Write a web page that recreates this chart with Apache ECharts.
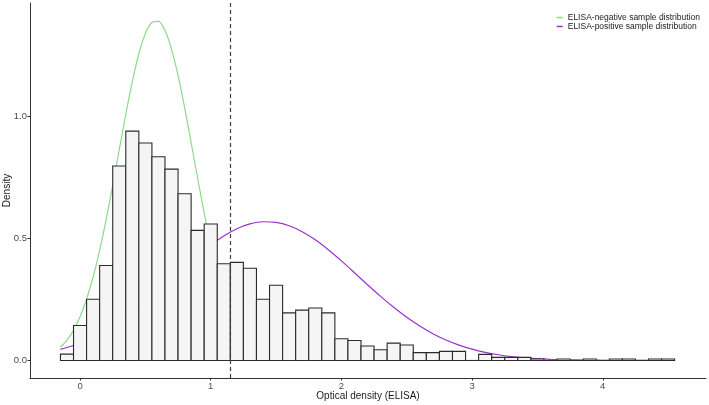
<!DOCTYPE html>
<html>
<head>
<meta charset="utf-8">
<script src="https://cdn.jsdelivr.net/npm/echarts@6/dist/echarts.min.js"></script>
<style>
html,body{margin:0;padding:0;background:#fff;}
#chart{width:709px;height:405px;}
</style>
</head>
<body>
<div id="chart"></div>
<script>
// Histogram bins (centers) and density heights
const binWidth = 0.1;
const binCenters = [-0.1,0.0,0.1,0.2,0.3,0.4,0.5,0.6,0.7,0.8,0.9,1.0,1.1,1.2,1.3,1.4,1.5,1.6,1.7,1.8,1.9,2.0,2.1,2.2,2.3,2.4,2.5,2.6,2.7,2.8,2.9,3.0,3.1,3.2,3.3,3.4,3.5,3.6,3.7,3.8,3.9,4.0,4.1,4.2,4.3,4.4,4.5];
const binDensity = [0.026,0.143,0.251,0.389,0.797,0.940,0.891,0.835,0.784,0.683,0.533,0.559,0.396,0.402,0.378,0.251,0.308,0.195,0.206,0.215,0.195,0.089,0.082,0.059,0.044,0.071,0.063,0.032,0.032,0.037,0.037,0,0.025,0.0125,0.0125,0.0125,0.006,0,0.006,0,0.006,0,0.006,0.006,0,0.006,0.006];

// ELISA-negative distribution curve
const negX = [-0.15,-0.10,-0.05,0.00,0.05,0.10,0.15,0.20,0.25,0.30,0.35,0.40,0.45,0.50,0.55,0.60,0.65,0.70,0.75,0.80,0.85,0.90,0.95,1.00,1.05,1.10,1.15,1.20,1.30,1.40,1.50,1.60,1.80,2.00,2.50,3.00,3.50,4.00,4.55];
const negY = [0.054,0.083,0.124,0.179,0.251,0.342,0.451,0.578,0.717,0.864,1.009,1.143,1.257,1.340,1.385,1.390,1.352,1.276,1.168,1.037,0.893,0.746,0.605,0.475,0.362,0.268,0.192,0.134,0.059,0.023,0.008,0.0025,0.0001,0,0,0,0,0,0];

// ELISA-positive distribution curve
const posX = [-0.15,-0.10,0.0,0.1,0.2,0.3,0.4,0.5,0.6,0.7,0.8,0.9,1.0,1.1,1.2,1.3,1.4,1.5,1.6,1.7,1.8,1.9,2.0,2.1,2.2,2.3,2.4,2.5,2.6,2.7,2.8,2.9,3.0,3.1,3.2,3.3,3.4,3.5,3.6,3.7,3.8,3.9,4.0,4.1,4.2,4.3,4.4,4.55];
const posY = [0.0452,0.0529,0.0715,0.0946,0.1227,0.1559,0.1942,0.2369,0.2832,0.3319,0.3809,0.4285,0.4722,0.5100,0.5397,0.5596,0.5685,0.5660,0.5521,0.5277,0.4943,0.4536,0.4079,0.3594,0.3103,0.2625,0.2176,0.1767,0.1407,0.1097,0.0838,0.0628,0.0461,0.0331,0.0233,0.0161,0.0109,0.0072,0.0047,0.0030,0.0019,0.0011,0.0007,0.0004,0.0002,0.0001,0.0001,0];

const cutoff = 1.15;
const xTicks = [0,1,2,3,4];
const yTicks = [0,0.5,1.0];

const zip = (a,b) => a.map((v,i)=>[v,b[i]]);
const FONT = 'Liberation Sans, Arial, sans-serif';

const chart = echarts.init(document.getElementById('chart'), null, {renderer:'canvas'});
chart.setOption({
  animation:false,
  backgroundColor:'#ffffff',
  grid:{left:30,right:3,top:3,bottom:27,containLabel:false,outerBoundsMode:'none'},
  legend:{
    orient:'vertical', right:4, top:8, align:'left',
    icon:'rect', itemWidth:6, itemHeight:1.5, itemGap:0,
    textStyle:{fontSize:8.5, color:'#1a1a1a', fontFamily:FONT, lineHeight:7.6, padding:0},
    data:['ELISA-negative sample distribution','ELISA-positive sample distribution']
  },
  xAxis:{
    type:'value', min:-0.383, max:4.79,
    name:'Optical density (ELISA)', nameLocation:'middle', nameGap:13, nameMoveOverlap:false,
    nameTextStyle:{fontSize:10, color:'#1a1a1a', fontFamily:FONT, verticalAlign:'top'},
    axisLine:{onZero:false, lineStyle:{color:'#333', width:1}},
    axisTick:{show:true, length:2.5, customValues:xTicks, lineStyle:{color:'#333'}},
    axisLabel:{customValues:xTicks, fontSize:9.5, color:'#4d4d4d', margin:3, fontFamily:FONT},
    splitLine:{show:false}
  },
  yAxis:{
    type:'value', min:-0.072, max:1.465,
    name:'Density', nameLocation:'middle', nameGap:18, nameRotate:90, nameMoveOverlap:false,
    nameTextStyle:{fontSize:10, color:'#1a1a1a', fontFamily:FONT},
    axisLine:{show:true, onZero:false, lineStyle:{color:'#333', width:1}},
    axisTick:{show:true, length:2.5, customValues:yTicks, lineStyle:{color:'#333'}},
    axisLabel:{customValues:yTicks, fontSize:9.5, color:'#4d4d4d', margin:3, fontFamily:FONT,
      formatter:v=>v.toFixed(1)},
    splitLine:{show:false}
  },
  series:[
    {
      name:'ELISA-negative sample distribution', type:'line', z:1,
      data:zip(negX,negY), smooth:0.3, symbol:'none',
      lineStyle:{color:'#8fd98b', width:1.2}, itemStyle:{color:'#8fd98b'}
    },
    {
      name:'ELISA-positive sample distribution', type:'line', z:1,
      data:zip(posX,posY), smooth:0.3, symbol:'none',
      lineStyle:{color:'#9932cc', width:1.2}, itemStyle:{color:'#9932cc'}
    },
    {
      name:'hist', type:'custom', z:3,
      data:zip(binCenters,binDensity),
      encode:{x:0,y:1},
      renderItem:function(params, api){
        const c = api.value(0), h = api.value(1);
        const p0 = api.coord([c - binWidth/2, h]);
        const p1 = api.coord([c + binWidth/2, 0]);
        return {type:'rect',
          shape:{x:p0[0], y:p0[1], width:p1[0]-p0[0], height:p1[1]-p0[1]},
          style:{fill:'#f5f5f5', stroke:'#2b2b2b', lineWidth:1.1}};
      },
      markLine:{
        silent:true, symbol:'none', label:{show:false}, z:5,
        lineStyle:{color:'#404040', type:[4,3], width:1.2},
        data:[{xAxis:cutoff}]
      }
    }
  ]
});
</script>
</body>
</html>
